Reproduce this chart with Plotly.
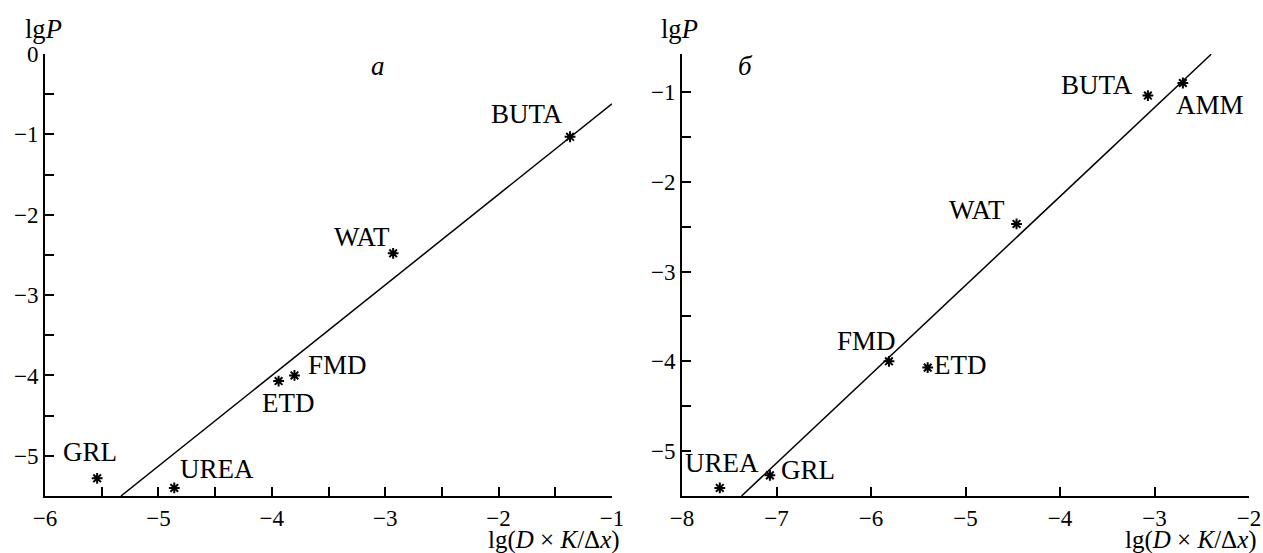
import plotly.graph_objects as go

# ---- data ----
a_names = ["GRL", "UREA", "ETD", "FMD", "WAT", "BUTA"]
a_x = [-5.54, -4.86, -3.94, -3.80, -2.93, -1.37]
a_y = [-5.28, -5.40, -4.07, -4.00, -2.48, -1.03]
a_line_x = [-5.33, -1.0]
a_line_y = [-5.5, -0.62]

b_names = ["UREA", "GRL", "FMD", "ETD", "WAT", "BUTA", "AMM"]
b_x = [-7.60, -7.07, -5.81, -5.40, -4.46, -3.07, -2.70]
b_y = [-5.41, -5.27, -4.00, -4.07, -2.47, -1.04, -0.90]
b_line_x = [-7.37, -2.40]
b_line_y = [-5.5, -0.58]

a_xticks = [-6, -5, -4, -3, -2, -1]
a_yticks = [0, -1, -2, -3, -4, -5]
b_xticks = [-8, -7, -6, -5, -4, -3, -2]
b_yticks = [-1, -2, -3, -4, -5]

# label offsets (pixels) relative to the marker
a_off = {"GRL": (-7, 26), "UREA": (43, 19), "ETD": (9, -22), "FMD": (43, 10),
         "WAT": (-31, 16), "BUTA": (-43, 23)}
b_off = {"UREA": (2, 25), "GRL": (38, 5), "FMD": (-22, 20), "ETD": (32, 3),
         "WAT": (-40, 14), "BUTA": (-51, 11), "AMM": (27, -22)}

FONT = "Liberation Serif, Times New Roman, serif"
W, H = 1263, 553

fig = go.Figure()
marker = dict(symbol="asterisk-open", size=9, color="black",
              line=dict(color="black", width=2))
fig.add_trace(go.Scatter(x=a_line_x, y=a_line_y, mode="lines",
                         line=dict(color="black", width=1.5), xaxis="x", yaxis="y",
                         showlegend=False, hoverinfo="skip"))
fig.add_trace(go.Scatter(x=a_x, y=a_y, mode="markers", xaxis="x", yaxis="y",
                         marker=marker, showlegend=False, cliponaxis=False))
fig.add_trace(go.Scatter(x=b_line_x, y=b_line_y, mode="lines",
                         line=dict(color="black", width=1.5), xaxis="x2", yaxis="y2",
                         showlegend=False, hoverinfo="skip"))
fig.add_trace(go.Scatter(x=b_x, y=b_y, mode="markers", xaxis="x2", yaxis="y2",
                         marker=marker, showlegend=False, cliponaxis=False))

LBL = dict(family=FONT, size=27, color="black")
annotations = []
for n, x, y in zip(a_names, a_x, a_y):
    dx, dy = a_off[n]
    annotations.append(dict(x=x, y=y, xref="x", yref="y", text=n, showarrow=False,
                            xanchor="center", yanchor="middle",
                            xshift=dx, yshift=dy, font=LBL))
for n, x, y in zip(b_names, b_x, b_y):
    dx, dy = b_off[n]
    annotations.append(dict(x=x, y=y, xref="x2", yref="y2", text=n, showarrow=False,
                            xanchor="center", yanchor="middle",
                            xshift=dx, yshift=dy, font=LBL))

# axis titles and panel letters
y0, y1 = 1 - 496 / H, 1 - 54 / H
ax1 = (45 / W, 612 / W)
ax2 = (682 / W, 1249 / W)
TTL = dict(family=FONT, size=26.5, color="black")
XTTL = dict(family=FONT, size=25, color="black")
annotations += [
    dict(x=ax1[0], y=y1, xref="paper", yref="paper", text="lg<i>P</i>", showarrow=False,
         xanchor="center", yanchor="bottom", xshift=-2, yshift=8, font=TTL),
    dict(x=ax2[0], y=y1, xref="paper", yref="paper", text="lg<i>P</i>", showarrow=False,
         xanchor="center", yanchor="bottom", xshift=-2, yshift=8, font=TTL),
    dict(x=ax1[1], y=0, xref="paper", yref="paper", text="lg(<i>D</i> × <i>K</i>/Δ<i>x</i>)",
         showarrow=False, xanchor="center", yanchor="bottom", xshift=-58, yshift=-3, font=XTTL),
    dict(x=ax2[1], y=0, xref="paper", yref="paper", text="lg(<i>D</i> × <i>K</i>/Δ<i>x</i>)",
         showarrow=False, xanchor="center", yanchor="bottom", xshift=-58, yshift=-3, font=XTTL),
    dict(x=378 / W, y=1 - 66 / H, xref="paper", yref="paper", text="<i>а</i>",
         showarrow=False, xanchor="center", yanchor="middle", font=LBL),
    dict(x=745 / W, y=1 - 66 / H, xref="paper", yref="paper", text="<i>б</i>",
         showarrow=False, xanchor="center", yanchor="middle", font=LBL),
]

common = dict(showgrid=False, zeroline=False, showline=True, linecolor="black", linewidth=2,
              ticks="inside", ticklen=9, tickwidth=1.6, tickcolor="black",
              tickfont=dict(family=FONT, size=23, color="black"), automargin=False,
              tickmode="array")
minor_style = dict(ticks="inside", ticklen=9, tickwidth=1.6, tickcolor="black")

fig.update_layout(
    width=W, height=H, margin=dict(l=0, r=0, t=0, b=0),
    plot_bgcolor="white", paper_bgcolor="white",
    xaxis=dict(domain=list(ax1), range=[-6, -1], tickvals=a_xticks, anchor="y",
               minor=dict(tickvals=[-5.5, -4.5, -3.5, -2.5, -1.5], **minor_style), **common),
    yaxis=dict(domain=[y0, y1], range=[-5.5, 0], tickvals=a_yticks, anchor="x",
               minor=dict(tickvals=[-0.5, -1.5, -2.5, -3.5, -4.5], **minor_style), **common),
    xaxis2=dict(domain=list(ax2), range=[-8, -2], tickvals=b_xticks, anchor="y2", **common),
    yaxis2=dict(domain=[y0, y1], range=[-5.5, -0.577], tickvals=b_yticks, anchor="x2",
                minor=dict(tickvals=[-0.577, -1.5, -2.5, -3.5, -4.5], **minor_style), **common),
    annotations=annotations,
)

fig.write_html("out.html")
